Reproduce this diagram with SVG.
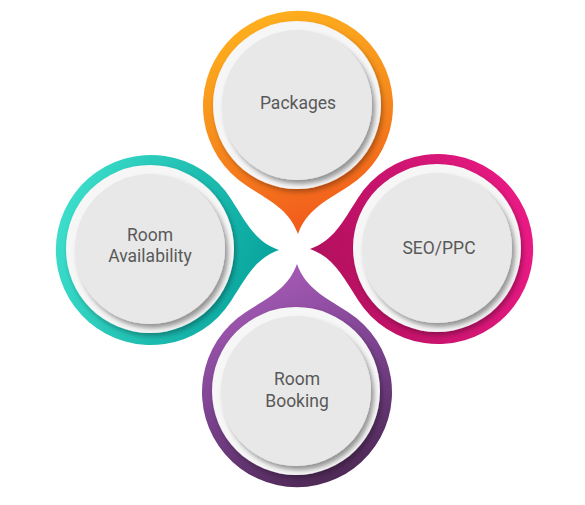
<svg xmlns="http://www.w3.org/2000/svg" width="585" height="505" viewBox="0 0 585 505">
<style>
  .ring { fill: #f6f6f6; filter: url(#sh1); }
  .disc { fill: #e8e8e8; filter: url(#sh2); }
  .lbl { font-family: Roboto, "Liberation Sans", sans-serif; font-size: 17.5px; fill: #595959; text-anchor: middle; }
</style>
<defs>
  <filter id="sh1" x="-20%" y="-20%" width="140%" height="140%">
    <feDropShadow dx="2" dy="3" stdDeviation="2.5" flood-color="#000" flood-opacity="0.3"/>
  </filter>
  <filter id="sh2" x="-20%" y="-20%" width="140%" height="140%">
    <feDropShadow dx="3" dy="4" stdDeviation="2.5" flood-color="#000" flood-opacity="0.4"/>
  </filter>
  <linearGradient id="gOrange" gradientUnits="userSpaceOnUse" x1="250" y1="10" x2="320" y2="234">
    <stop offset="0" stop-color="#ffb21e"/>
    <stop offset="0.45" stop-color="#f7901c"/>
    <stop offset="1" stop-color="#f1561c"/>
  </linearGradient>
  <linearGradient id="gTeal" gradientUnits="userSpaceOnUse" x1="60" y1="190" x2="279" y2="260">
    <stop offset="0" stop-color="#3ee0cc"/>
    <stop offset="1" stop-color="#06a29c"/>
  </linearGradient>
  <linearGradient id="gMagenta" gradientUnits="userSpaceOnUse" x1="533" y1="200" x2="310" y2="270">
    <stop offset="0" stop-color="#ec1a86"/>
    <stop offset="1" stop-color="#b00f5c"/>
  </linearGradient>
  <linearGradient id="gPurple" gradientUnits="userSpaceOnUse" x1="250" y1="270" x2="340" y2="487">
    <stop offset="0" stop-color="#a95cb9"/>
    <stop offset="0.5" stop-color="#7c4390"/>
    <stop offset="1" stop-color="#4b2752"/>
  </linearGradient>
</defs>

<g id="node-packages">
  <path fill="url(#gOrange)" d="M349 186 A95 95 0 1 0 247 186 C272.3 202.1 289.5 210.5 298 234 C306.5 210.5 323.7 202.1 349 186 Z"/>
  <circle class="ring" cx="297" cy="105" r="84"/>
  <circle class="disc" cx="297" cy="105" r="75"/>
  <text class="lbl" x="298" y="109">Packages</text>
</g>

<g id="node-room-availability">
  <path fill="url(#gTeal)" d="M231 199 A95 95 0 1 0 231 301 C247.1 275.7 255.5 258.5 279 250 C255.5 241.5 247.1 224.3 231 199 Z"/>
  <circle class="ring" cx="150" cy="249" r="84"/>
  <circle class="disc" cx="150" cy="249" r="75"/>
  <text class="lbl" x="150" y="241">Room</text>
  <text class="lbl" x="150" y="262">Availability</text>
</g>

<g id="node-seo-ppc">
  <path fill="url(#gMagenta)" d="M358 300 A95 95 0 1 0 358 198 C341.9 223.3 333.5 240.5 310 249 C333.5 257.5 341.9 274.7 358 300 Z"/>
  <circle class="ring" cx="437" cy="248" r="84"/>
  <circle class="disc" cx="437" cy="248" r="75"/>
  <text class="lbl" x="439" y="254">SEO/PPC</text>
</g>

<g id="node-room-booking">
  <path fill="url(#gPurple)" d="M246 312 A95 95 0 1 0 348 312 C322.7 295.9 305.5 287.5 297 264 C288.5 287.5 271.3 295.9 246 312 Z"/>
  <circle class="ring" cx="296" cy="391" r="84"/>
  <circle class="disc" cx="296" cy="391" r="75"/>
  <text class="lbl" x="297" y="385">Room</text>
  <text class="lbl" x="297" y="407">Booking</text>
</g>
</svg>
